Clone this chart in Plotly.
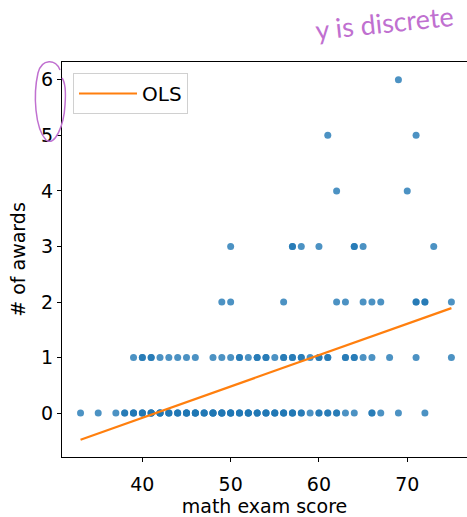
import plotly.graph_objects as go

# math exam scores observed for each number of awards (repeats = overlapping students)
scores_0_awards = [33, 35, 37,
                   38, 38, 39, 39, 39, 40, 40, 40, 41, 41, 41, 41, 42, 42, 42, 42, 43, 43, 43,
                   44, 44, 44, 45, 45, 45, 45, 46, 46, 46, 46, 47, 47, 47, 48, 48, 48, 48,
                   49, 49, 49, 49, 50, 50, 50, 50, 51, 51, 51, 52, 52, 52, 52, 53, 53, 53,
                   54, 54, 54, 55, 55, 55, 56, 56, 56, 57, 57, 57, 58, 58, 59,
                   60, 60, 61, 61, 62, 62, 63, 64, 66, 66, 67, 69, 72]
scores_1_award = [39, 40, 40, 41, 41, 42, 43, 44, 45, 46, 48, 49, 50, 51, 51, 52, 53, 53,
                  54, 54, 55, 56, 56, 57, 57, 58, 58, 59, 60, 60, 61, 61, 63, 63, 64, 64,
                  65, 66, 68, 71, 75]
scores_2_awards = [49, 50, 56, 62, 63, 65, 66, 67, 71, 71, 72, 72, 75]
scores_3_awards = [50, 57, 57, 58, 60, 64, 64, 65, 73]
scores_4_awards = [62, 70]
scores_5_awards = [61, 71]
scores_6_awards = [69]

# OLS fit line endpoints
ols_x = [33, 75]
ols_y = [-0.48, 1.89]

x_ticks = [40, 50, 60, 70]
y_ticks = [0, 1, 2, 3, 4, 5, 6]

rows = [scores_0_awards, scores_1_award, scores_2_awards, scores_3_awards,
        scores_4_awards, scores_5_awards, scores_6_awards]
math_score = []
num_awards = []
for k, r in enumerate(rows):
    math_score += r
    num_awards += [k] * len(r)

fig = go.Figure()
fig.add_trace(go.Scatter(
    x=math_score, y=num_awards, mode="markers", showlegend=False,
    marker=dict(size=7, color="rgba(31,119,180,0.8)", line=dict(width=0)),
))
fig.add_trace(go.Scatter(
    x=ols_x, y=ols_y, mode="lines", name="OLS",
    line=dict(color="#ff7f0e", width=2.2),
))

W, H = 467, 517
L, R, T, B = 62, 0, 62, 60
pw, ph = W - L - R, H - T - B


def px(xp):
    return (xp - L) / pw


def py(yp):
    return (H - B - yp) / ph


FS = 19
font = dict(family="DejaVu Sans", size=FS, color="black")
fig.update_layout(
    width=W, height=H,
    margin=dict(l=L, r=R, t=T, b=B, pad=0, autoexpand=False),
    paper_bgcolor="white", plot_bgcolor="white",
    font=font,
    showlegend=True,
    legend=dict(x=px(73), y=py(73), xanchor="left", yanchor="top",
                bgcolor="white", bordercolor="#d0d0d0", borderwidth=1,
                itemwidth=58,
                font=dict(family="DejaVu Sans", size=20, color="black")),
    xaxis=dict(range=[30.9, 30.9 + pw / 8.83], tickvals=x_ticks, automargin=False,
               showgrid=False, zeroline=False, showline=True, linecolor="black",
               linewidth=1, mirror=True, ticks="outside", ticklen=4, tickcolor="black",
               tickfont=font, ticklabelstandoff=6,
               title=dict(text="math exam score", standoff=14, font=font)),
    yaxis=dict(range=[-0.79, 6.32], tickvals=y_ticks, automargin=False,
               showgrid=False, zeroline=False, showline=True, linecolor="black",
               linewidth=1, ticks="outside", ticklen=4, tickcolor="black",
               tickfont=font,
               title=dict(text="# of awards", standoff=10, font=font)),
)

purple = "#c070d0"
fig.add_annotation(
    text="y is discrete", xref="paper", yref="paper",
    x=px(384), y=py(23), xanchor="center", yanchor="middle",
    showarrow=False, textangle=-6,
    font=dict(family="Lato", size=27, color=purple),
)


def pt(xp, yp):
    return f"{px(xp):.4f},{py(yp):.4f}"


path = ("M " + pt(60, 70) + " C " + pt(56, 59) + " " + pt(42, 58) + " " + pt(38, 73) +
        " C " + pt(33, 95) + " " + pt(35, 128) + " " + pt(46, 140) +
        " C " + pt(55, 147) + " " + pt(64, 125) + " " + pt(65, 105) +
        " C " + pt(66, 92) + " " + pt(65, 82) + " " + pt(62, 78))
fig.add_shape(type="path", path=path, xref="paper", yref="paper",
              line=dict(color=purple, width=1.5))

fig.write_html("out.html", config={"displayModeBar": False},
               post_script="document.body.style.margin='0';document.body.style.padding='0';")
